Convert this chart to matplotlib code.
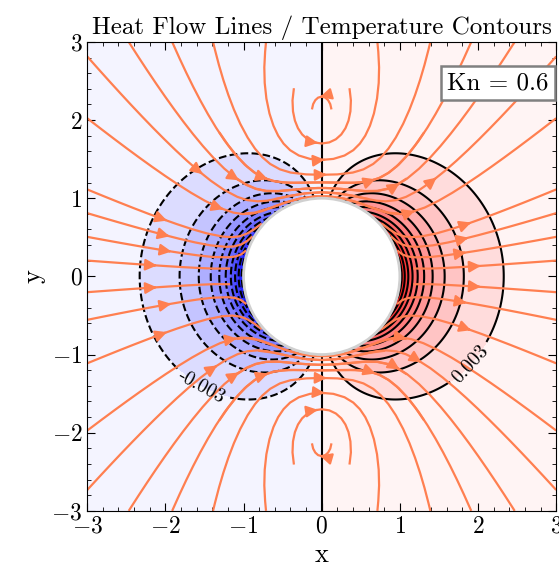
import numpy as np
import matplotlib
matplotlib.use('Agg')
import matplotlib.pyplot as plt
from matplotlib.patches import Circle

plt.rcParams['font.family'] = 'cmr10'
plt.rcParams['mathtext.fontset'] = 'cm'
plt.rcParams['axes.formatter.use_mathtext'] = True

# knudsen number and field parameters
Kn = 0.6
T_amp = 0.032        # temperature amplitude at the sphere
T_pow = 2.8          # radial decay of temperature
q_p, q_m = 1.0, 1.5  # heat flux: radial part, dipole part
r_vort = 2.1         # centre of the heat flux vortices
n_lev = 11
dT = 0.003
label_levels = [-0.003, 0.003]
label_pos = [(-1.5, -1.35), (1.99, -1.2)]

# where the drawn heat flow lines are seeded
seed_side_y = [2.78, 2.0, 1.1, 0.8, 0.5, 0.2, -0.2, -0.55, -1.1, -1.95, -2.7]
seed_top_x = [-2.45, -1.9, 1.9, 2.45]
seed_axis_y = [1.49, 1.30]
seed_loop_y = [1.70]
seed_core_y = [2.30]

x = np.linspace(-3, 3, 400)
y = np.linspace(-3, 3, 400)
X, Y = np.meshgrid(x, y)
R = np.hypot(X, Y)
C = X / R
S = Y / R
inside = R < 1.0

# temperature
T = T_amp * C / R**T_pow
T = np.ma.masked_where(inside, T)

# heat flux from axisymmetric stream function sin^2(th) F(r)
q_n = q_m * r_vort**2 / 3
F = q_p + q_m / R - q_n / R**3
dF = -q_m / R**2 + 3 * q_n / R**4
qx = 2 * F * C**2 / R**2 + dF * S**2 / R
qy = S * C * (2 * F / R**2 - dF / R)
qx[inside] = np.nan
qy[inside] = np.nan

seeds = ([(-2.97, v) for v in seed_side_y] + [(2.97, v) for v in seed_side_y]
         + [(u, 2.97) for u in seed_top_x] + [(u, -2.97) for u in seed_top_x]
         + [(0.0, v) for v in seed_axis_y] + [(0.0, -v) for v in seed_axis_y])
loop_seeds = [(0.0, v) for v in seed_loop_y] + [(0.0, -v) for v in seed_loop_y]
core_seeds = [(0.0, v) for v in seed_core_y] + [(0.0, -v) for v in seed_core_y]

levels = np.round(np.arange(-n_lev, n_lev + 1) * dT, 6)

fig = plt.figure(figsize=(5.59, 5.74), dpi=100)
ax = fig.add_axes([0.156, 0.110, 0.839, 0.817])

ax.contourf(X, Y, T, levels=levels, cmap='bwr', extend='both')
ax.contour(X, Y, T, levels=[lv for lv in levels if abs(abs(lv) - 0.003) > 1e-6],
           colors='k', linewidths=1.5)
cs_lab = ax.contour(X, Y, T, levels=label_levels, colors='k', linewidths=1.5)
ax.clabel(cs_lab, fmt='%.3f', fontsize=14, manual=label_pos, inline=True)

sp = dict(color='coral', linewidth=1.6, arrowsize=1.7, broken_streamlines=False)
ax.streamplot(x, y, qx, qy, start_points=np.array(seeds), maxlength=1.5, **sp)
ax.streamplot(x, y, qx, qy, start_points=np.array(loop_seeds), maxlength=0.32,
              minlength=0.01, **sp)
ax.streamplot(x, y, qx, qy, start_points=np.array(core_seeds), maxlength=0.1,
              minlength=0.01, **sp)

ax.add_patch(Circle((0, 0), 1.0, facecolor='white', edgecolor='#d0d0d0', lw=2, zorder=5))

ax.text(0.984, 0.912, 'Kn = %.1f' % Kn, transform=ax.transAxes, ha='right', va='center',
        fontsize=18, zorder=10,
        bbox=dict(boxstyle='square,pad=0.25', fc='white', ec='gray', lw=1.8))

ax.set_xlim(-3, 3)
ax.set_ylim(-3, 3)
ax.set_aspect('equal')
ax.set_xticks(np.arange(-3, 4, 1))
ax.set_yticks(np.arange(-3, 4, 1))
ax.minorticks_on()
ax.tick_params(which='both', direction='in', top=True, right=True, labelsize=17)
ax.tick_params(which='major', length=6)
ax.tick_params(which='minor', length=3)
ax.set_xlabel('x', fontsize=19)
ax.set_ylabel('y', fontsize=19)
ax.set_title('Heat Flow Lines / Temperature Contours', fontsize=18)

plt.savefig('out.png', dpi=100)
